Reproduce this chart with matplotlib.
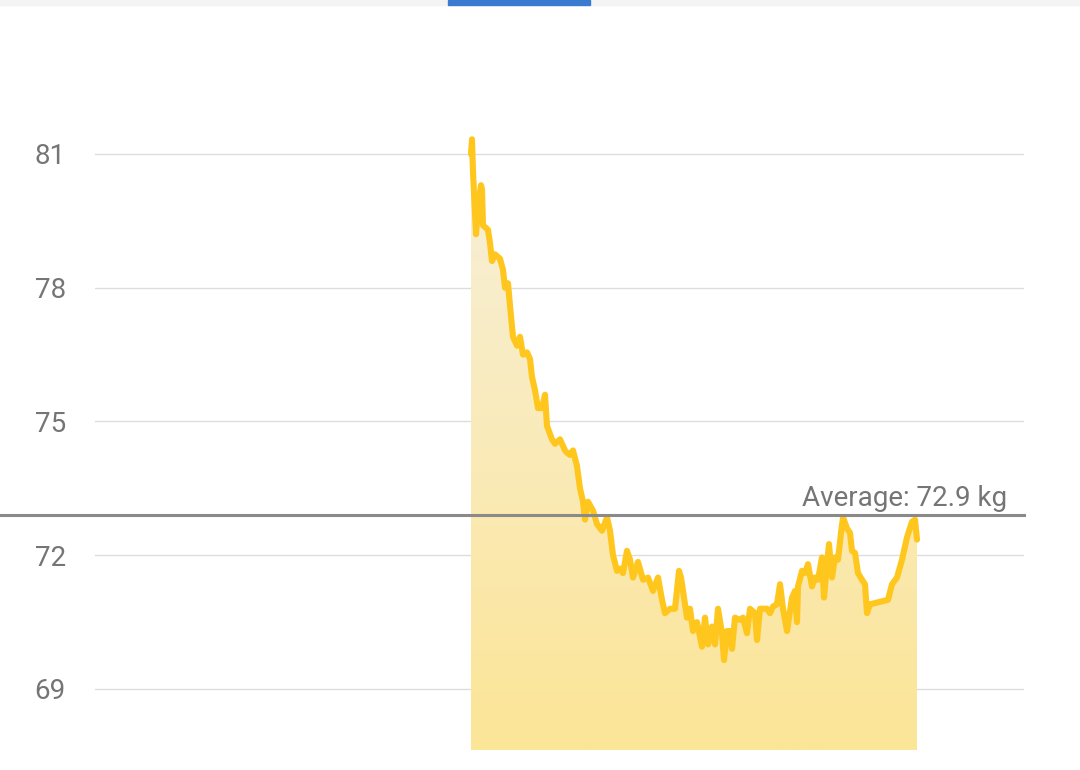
import matplotlib.pyplot as plt
import numpy as np
from matplotlib.colors import LinearSegmentedColormap
from matplotlib.patches import Rectangle

# daily weight readings (day index, kg)
days = [0, 1, 2, 5, 7, 10, 11, 12, 17, 19, 21, 24, 29, 32, 34, 37, 39, 42, 46, 49,
        52, 56, 59, 61, 64, 67, 71, 74, 76, 81, 84, 89, 94, 96, 99, 102, 106, 109, 112, 114,
        117, 122, 126, 131, 136, 139, 142, 146, 149, 152, 156, 159, 162, 167, 172, 177, 182, 187, 191, 194,
        199, 204, 208, 210, 212, 216, 219, 222, 226, 231, 234, 237, 241, 244, 247, 251, 253, 256, 259, 261,
        264, 269, 272, 276, 279, 284, 286, 289, 296, 299, 302, 306, 309, 312, 316, 321, 324, 326, 327, 331,
        334, 337, 341, 344, 347, 351, 353, 356, 358, 361, 364, 367, 370, 372, 376, 379, 381, 384, 387, 391,
        394, 396, 399, 417, 421, 426, 431, 436, 441, 444, 446]
weights = [81.0, 81.33, 80.6, 79.2, 79.8, 80.3, 80.2, 79.4, 79.3, 79.0, 78.6, 78.75, 78.65, 78.4, 78.0, 78.1, 77.6, 76.9, 76.7, 76.9,
           76.5, 76.55, 76.4, 76.0, 75.7, 75.3, 75.3, 75.6, 74.9, 74.6, 74.5, 74.6, 74.35, 74.3, 74.25, 74.35, 74.0, 73.5, 73.2, 72.8,
           73.2, 73.0, 72.7, 72.55, 72.85, 72.55, 72.0, 71.65, 71.7, 71.6, 72.1, 71.9, 71.5, 71.85, 71.45, 71.5, 71.2, 71.5, 71.0, 70.7,
           70.8, 70.8, 71.65, 71.5, 71.2, 70.6, 70.8, 70.3, 70.5, 69.95, 70.6, 70.0, 70.4, 70.0, 70.8, 70.25, 69.65, 70.3, 70.3, 69.9,
           70.6, 70.55, 70.6, 70.25, 70.8, 70.7, 70.1, 70.8, 70.8, 70.7, 70.85, 70.9, 71.35, 70.8, 70.3, 71.05, 71.2, 70.5, 71.3, 71.65,
           71.6, 71.8, 71.3, 71.5, 71.45, 71.95, 71.05, 71.8, 72.25, 71.5, 71.95, 71.9, 72.5, 72.85, 72.6, 72.5, 72.1, 72.05, 71.6, 71.45,
           71.35, 70.7, 70.9, 71.0, 71.35, 71.5, 71.9, 72.4, 72.75, 72.8, 72.35]
avg_weight = 72.9
yticks = [69, 72, 75, 78, 81]

fill_base = 67.63
line_color = '#FFC61E'
grey = '#757575'
fonts = ['Roboto', 'DejaVu Sans']

W, H = 1080, 770
fig = plt.figure(figsize=(W / 100, H / 100), dpi=100)
fig.patch.set_facecolor('white')

# top bar with selected tab
fig.add_artist(Rectangle((0, 1 - 5 / H), 1, 5 / H, transform=fig.transFigure,
                         color='#f4f4f4', zorder=0))
fig.add_artist(Rectangle((448 / W, 1 - 5 / H), 142 / W, 5 / H, transform=fig.transFigure,
                         color='#3a7bd0', zorder=1))

ax = fig.add_axes([95 / W, 0, (1024 - 95) / W, 1])
ax.set_facecolor('none')
ax.set_xlim(-376, 553)
ax.set_ylim(67.183, 84.454)
for s in ax.spines.values():
    s.set_visible(False)
ax.set_xticks([])
ax.set_yticks(yticks)
ax.set_yticklabels([str(t) for t in yticks], fontsize=20, color=grey, family=fonts)
ax.tick_params(axis='y', length=0, pad=21)
ax.yaxis.grid(True, color='#dddddd', linewidth=1.0)
ax.set_axisbelow(True)

# gradient fill under the line
poly = ax.fill_between(days, weights, fill_base, color='none', linewidth=0)
cmap = LinearSegmentedColormap.from_list('fillgrad', ['#FCE597', '#F7F0DB'])
grad = np.linspace(0, 1, 256).reshape(-1, 1)
img = ax.imshow(grad, extent=[days[0], days[-1], fill_base, max(weights)],
                origin='lower', aspect='auto', cmap=cmap, zorder=1)
img.set_clip_path(poly.get_paths()[0], transform=ax.transData)

ax.plot(days, weights, color=line_color, linewidth=4.4, solid_joinstyle='round',
        solid_capstyle='round', zorder=3)

# average line
ax.axhline(avg_weight, xmin=-95 / 929, xmax=1, color='#8a8a8a', linewidth=2.2,
           clip_on=False, zorder=4)
ax.annotate(f'Average: {avg_weight} kg', xy=(536, avg_weight), xytext=(0, 6.5),
            textcoords='offset points', ha='right', va='baseline', fontsize=20,
            color=grey, family=fonts)

fig.savefig('out.png', dpi=100)
